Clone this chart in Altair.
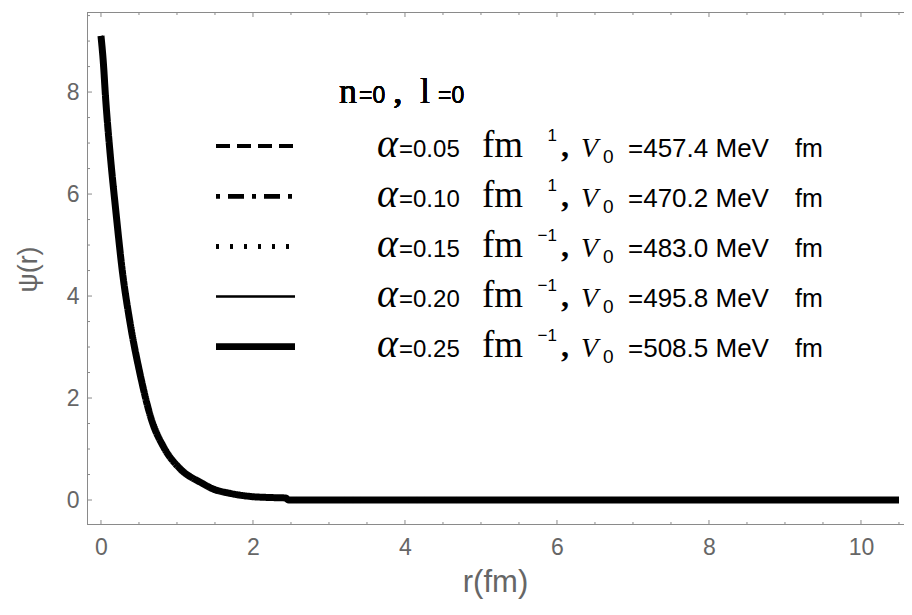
import altair as alt
import pandas as pd

# ---------------- data ----------------
r_values = [0.0, 0.03, 0.06, 0.12, 0.2, 0.28, 0.38, 0.51, 0.67, 0.82, 1.05, 1.33,
            1.47, 1.7, 2.0, 2.2, 2.43, 2.47, 3.0, 4.0, 5.0, 6.0, 7.0, 8.0, 9.0, 10.0, 10.5]
psi_values = [9.1, 8.6, 7.9, 6.8, 5.6, 4.5, 3.5, 2.5, 1.55, 1.05, 0.6, 0.33,
              0.22, 0.13, 0.065, 0.05, 0.04, 0.0, 0.0, 0.0, 0.0, 0.0, 0.0, 0.0, 0.0, 0.0, 0.0]
# all five curves coincide at this resolution
series = ["a0.05", "a0.10", "a0.15", "a0.20", "a0.25"]

alpha_text = ["=0.05", "=0.10", "=0.15", "=0.20", "=0.25"]
fm_exponent = ["1", "1", "\u22121", "\u22121", "\u22121"]
v0_text = ["=457.4 MeV", "=470.2 MeV", "=483.0 MeV", "=495.8 MeV", "=508.5 MeV"]

x_major = [0, 2, 4, 6, 8, 10]
x_minor = [0.5, 1, 1.5, 2.5, 3, 3.5, 4.5, 5, 5.5, 6.5, 7, 7.5, 8.5, 9, 9.5, 10.5]
y_major = [0, 2, 4, 6, 8]
y_minor = [0.5, 1, 1.5, 2.5, 3, 3.5, 4.5, 5, 5.5, 6.5, 7, 7.5, 8.5, 9, 9.5]

# ---------------- layout ----------------
W, H = 817, 513
LEFT, TOP = 87, 12          # page position of the plot origin
X_DOMAIN = [-0.184, -0.184 + W / 76.0]
Y_DOMAIN = [-0.49, 9.57]
FRAME = "#8a8a8a"
LABEL = "#666666"

xs = alt.Scale(domain=X_DOMAIN, nice=False, zero=False)
ys = alt.Scale(domain=Y_DOMAIN, nice=False, zero=False)

x_axis = alt.Axis(
    values=x_major, ticks=False, domain=False, grid=False,
    labelFont="Liberation Sans", labelFontSize=23, labelColor=LABEL, labelPadding=11,
    title="r(fm)", titleFont="Liberation Sans", titleFontSize=31, titleFontWeight="normal",
    titleColor=LABEL, titleX=408, titleY=66, titleBaseline="alphabetic", titleAnchor="start",
    titleAlign="center")
y_axis = alt.Axis(
    values=y_major, ticks=False, domain=False, grid=False,
    labelFont="Liberation Sans", labelFontSize=23, labelColor=LABEL, labelPadding=8,
    title="\u03c8(r)", titleFont="Liberation Sans", titleFontSize=27, titleFontWeight="normal",
    titleColor=LABEL, titleX=-59, titleY=257, titleAngle=-90, titleBaseline="middle",
    titleAlign="center", titleAnchor="start")


def ydata(py_page):
    return Y_DOMAIN[1] - (py_page - TOP) / H * (Y_DOMAIN[1] - Y_DOMAIN[0])


curve_df = pd.DataFrame({"r": r_values, "psi": psi_values, "idx": list(range(len(r_values)))})

dash_range = [[14, 7], [4, 8, 16, 8], [3, 11], [1, 0], [1, 0]]
width_range = [4, 4, 4, 1.5, 7]

curve_layers = []
for i, s in enumerate(series):
    curve_layers.append(alt.Chart(curve_df).mark_line(
        interpolate="monotone", color="black", strokeCap="butt",
        strokeWidth=width_range[i], strokeDash=dash_range[i]).encode(
        x=alt.X("r:Q", scale=xs, axis=x_axis),
        y=alt.Y("psi:Q", scale=ys, axis=y_axis),
        order="idx:Q"))

# ---------------- frame (left, top, bottom) and inward ticks ----------------
frame_df = pd.DataFrame({"k": [0]})
frame_layers = [
    alt.Chart(frame_df).mark_rule(color=FRAME, strokeWidth=1).encode(
        x=alt.value(0.5), x2=alt.value(0.5), y=alt.value(0), y2=alt.value(H)),
    alt.Chart(frame_df).mark_rule(color=FRAME, strokeWidth=1).encode(
        x=alt.value(0), x2=alt.value(W), y=alt.value(0.5), y2=alt.value(0.5)),
    alt.Chart(frame_df).mark_rule(color=FRAME, strokeWidth=1).encode(
        x=alt.value(0), x2=alt.value(W), y=alt.value(H - 0.5), y2=alt.value(H - 0.5)),
]

xmaj_df = pd.DataFrame({"r": x_major})
xmin_df = pd.DataFrame({"r": x_minor})
ymaj_df = pd.DataFrame({"psi": y_major})
ymin_df = pd.DataFrame({"psi": y_minor})

tick_layers = []
for df, ln in ((xmaj_df, 5), (xmin_df, 3)):
    tick_layers.append(alt.Chart(df).mark_rule(color=FRAME, strokeWidth=1).encode(
        x=alt.X("r:Q", scale=xs, axis=x_axis), y=alt.value(H), y2=alt.value(H - ln)))
    tick_layers.append(alt.Chart(df).mark_rule(color=FRAME, strokeWidth=1).encode(
        x=alt.X("r:Q", scale=xs, axis=x_axis), y=alt.value(0), y2=alt.value(ln)))
for df, ln in ((ymaj_df, 5), (ymin_df, 3)):
    tick_layers.append(alt.Chart(df).mark_rule(color=FRAME, strokeWidth=1).encode(
        y=alt.Y("psi:Q", scale=ys, axis=y_axis), x=alt.value(0), x2=alt.value(ln)))

# ---------------- legend ----------------
leg_df = pd.DataFrame({
    "alpha": alpha_text,
    "exp": fm_exponent,
    "v0": v0_text,
    "yb": [ydata(157 + 50 * i) for i in range(len(series))],
    "ysup": [ydata(141 + 50 * i) for i in range(len(series))],
    "ysub": [ydata(163 + 50 * i) for i in range(len(series))],
})

sample_layers = []
sample_width = [4, 4, 4, 1.5, 6]
for i, s in enumerate(series):
    sample_layers.append(alt.Chart(leg_df).mark_rule(
        color="black", strokeWidth=sample_width[i], strokeDash=dash_range[i], strokeCap="butt").encode(
        x=alt.value(216 - LEFT), x2=alt.value(295 - LEFT), y=alt.value(146 + 50.2 * i - TOP)))


def piece(x_page, ycol, text, align="left", **font):
    enc_text = alt.Text(f"{text}:N") if text in leg_df.columns else alt.value(text)
    return alt.Chart(leg_df).mark_text(align=align, baseline="alphabetic", color="black", **font).encode(
        x=alt.value(x_page - LEFT), y=alt.Y(f"{ycol}:Q", scale=ys, axis=y_axis), text=enc_text)


text_layers = [
    piece(377, "yb", "\u03b1", font="Liberation Serif", fontSize=40, fontStyle="italic"),
    piece(399, "yb", "alpha", font="Liberation Sans", fontSize=24),
    piece(482, "yb", "fm", font="Liberation Serif", fontSize=37),
    piece(557, "ysup", "exp", align="right", font="Liberation Sans", fontSize=17),
    piece(561, "yb", ",", font="Liberation Serif", fontSize=32, fontWeight="bold"),
    piece(581, "yb", "V", font="Liberation Serif", fontSize=28, fontStyle="italic"),
    piece(603, "ysub", "0", font="Liberation Sans", fontSize=19),
    piece(628, "yb", "v0", font="Liberation Sans", fontSize=26),
    piece(795, "yb", "fm", font="Liberation Sans", fontSize=25),
]


def title_piece(x_page, text, **font):
    return alt.Chart(leg_df).mark_text(align="left", baseline="alphabetic", color="black", **font).encode(
        x=alt.value(x_page - LEFT), y=alt.value(103 - TOP), text=alt.value(text))


title_layers = [
    title_piece(339, "n", font="Liberation Serif", fontSize=36),
    title_piece(359, "=0", font="Liberation Sans", fontSize=23),
    title_piece(394, ",", font="Liberation Serif", fontSize=30, fontWeight="bold"),
    title_piece(420, "l", font="Liberation Serif", fontSize=36),
    title_piece(438, "=0", font="Liberation Sans", fontSize=23),
]

chart = alt.layer(*curve_layers, *frame_layers, *tick_layers, *sample_layers,
                  *text_layers, *title_layers).properties(
    width=W, height=H,
    autosize=alt.AutoSizeParams(type="none"),
    padding={"left": 79, "top": 4, "right": 0, "bottom": 78},
    background="white",
).configure_view(stroke=None)

chart.save("out.html", embed_options={"renderer": "svg", "actions": False})
